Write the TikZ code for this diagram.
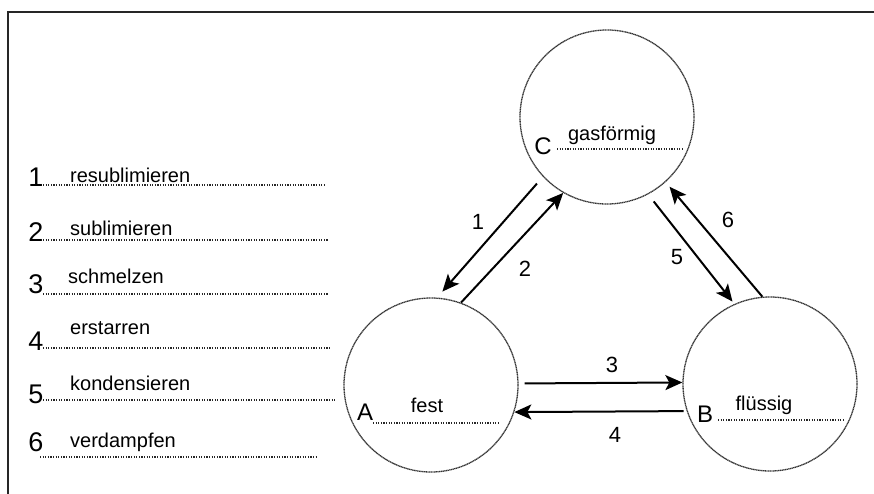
\documentclass[tikz,border=0pt]{standalone}
\usepackage{fontspec}
\setmainfont{Liberation Sans}
\usetikzlibrary{arrows.meta}
\begin{document}
\begin{tikzpicture}[x=1pt,y=-1pt,
  phase/.style={circle,minimum size=174pt,inner sep=0pt,draw=black!80,line width=1.3pt,dash pattern=on 1.2pt off 0.5pt},
  dots/.style={draw=black!85,line width=1.3pt,dash pattern=on 1.2pt off 1.4pt},
  conn/.style={line width=2pt,-{Stealth[length=17pt,width=15pt,inset=4pt]}},
  txt/.style={font=\fontsize{20}{20}\selectfont,inner sep=0pt},
  num/.style={font=\fontsize{27}{27}\selectfont,inner sep=0pt},
  lett/.style={font=\fontsize{24}{24}\selectfont,inner sep=0pt},
  anum/.style={font=\fontsize{22}{22}\selectfont,inner sep=0pt}]
\useasboundingbox (0,0) rectangle (874,494);
% frame
\coordinate (f1) at (8,494);
\coordinate (f2) at (8,12);
\coordinate (f3) at (874,12);
\draw[line width=1.8pt,black!85] (f1) -- (f2) -- (f3);
% circles
\node[phase] (C) at (607,117) {};
\node[phase] (A) at (431,385) {};
\node[phase] (B) at (770,384) {};
% inner labels
\node[lett] (Cl) at (543,146) {C};
\node[txt] (Ct) at (612,135) {gasförmig};
\coordinate (c1) at (557,149); \coordinate (c2) at (683,149);
\draw[dots] (c1) -- (c2);
\node[lett] (Al) at (365,412) {A};
\node[txt] (At) at (427,405) {fest};
\coordinate (a1) at (373,423); \coordinate (a2) at (500,423);
\draw[dots] (a1) -- (a2);
\node[lett] (Bl) at (705,414) {B};
\node[txt] (Bt) at (764,405) {flüssig};
\coordinate (b1) at (718,420); \coordinate (b2) at (845,420);
\draw[dots] (b1) -- (b2);
% arrows
\draw[conn,shorten <=9pt,shorten >=8pt] (C.223) -- (A.86);
\draw[conn] (A.70) -- (C.240);
\draw[conn,shorten <=9pt,shorten >=3pt] (C.298) -- (B.114);
\draw[conn,shorten >=6pt] (B.95) -- (C.312);
\draw[conn,shorten <=6pt] (A.1) -- (B.179);
\draw[conn,shorten <=3pt] (B.198) -- (A.342);
\node[anum] (n1) at (478,222) {1};
\node[anum] (n2) at (525,269) {2};
\node[anum] (n3) at (612,365) {3};
\node[anum] (n4) at (615,435) {4};
\node[anum] (n5) at (677,257) {5};
\node[anum] (n6) at (728,220) {6};
% list
\node[num] (l1) at (36,177) {1};
\node[txt,anchor=west] (t1) at (70,175) {resublimieren};
\coordinate (d1a) at (43,185); \coordinate (d1b) at (325,185);
\draw[dots] (d1a) -- (d1b);
\node[num] (l2) at (36,232) {2};
\node[txt,anchor=west] (t2) at (70,228) {sublimieren};
\coordinate (d2a) at (43,240); \coordinate (d2b) at (328,240);
\draw[dots] (d2a) -- (d2b);
\node[num] (l3) at (36,284) {3};
\node[txt,anchor=west] (t3) at (68,276) {schmelzen};
\coordinate (d3a) at (43,294); \coordinate (d3b) at (328,294);
\draw[dots] (d3a) -- (d3b);
\node[num] (l4) at (36,341) {4};
\node[txt,anchor=west] (t4) at (70,328) {erstarren};
\coordinate (d4a) at (43,348); \coordinate (d4b) at (330,348);
\draw[dots] (d4a) -- (d4b);
\node[num] (l5) at (36,394) {5};
\node[txt,anchor=west] (t5) at (70,383) {kondensieren};
\coordinate (d5a) at (43,400); \coordinate (d5b) at (335,400);
\draw[dots] (d5a) -- (d5b);
\node[num] (l6) at (36,442) {6};
\node[txt,anchor=west] (t6) at (70,442) {verdampfen};
\coordinate (d6a) at (40,457); \coordinate (d6b) at (318,457);
\draw[dots] (d6a) -- (d6b);
\end{tikzpicture}
\end{document}
